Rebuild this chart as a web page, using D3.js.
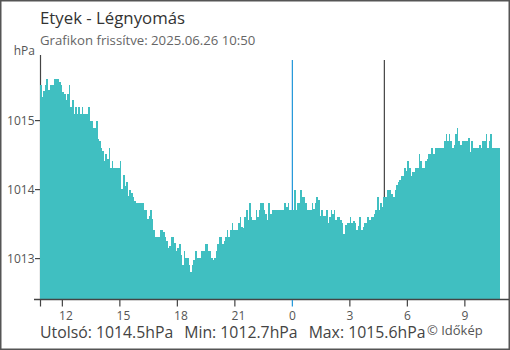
<!DOCTYPE html>
<html><head><meta charset="utf-8">
<script src="https://cdn.jsdelivr.net/npm/d3@7"></script>
<style>html,body{margin:0;padding:0;background:#fff;} svg{display:block;font-family:"Open Sans",sans-serif;}</style>
</head><body><svg id="c" width="510" height="350"></svg>
<script>
const title = "Etyek - Légnyomás";
const subtitle = "Grafikon frissítve: 2025.06.26 10:50";
const unit = "hPa";
const startTime = "2025-06-25T10:50:00";
const endTime = "2025-06-26T10:50:00";
const stepMinutes = 5;
const pressure = [
1015.51,1015.34,1015.43,1015.51,1015.61,1015.45,1015.51,1015.51,1015.51,1015.61,
1015.61,1015.61,1015.56,1015.51,1015.41,1015.38,1015.30,1015.38,1015.51,1015.20,
1015.30,1015.10,1015.20,1015.10,1015.20,1015.10,1015.20,1015.10,1015.10,1015.10,
1015.20,1015.00,1015.00,1014.90,1014.90,1015.00,1014.74,1014.70,1014.61,1014.56,
1014.41,1014.51,1014.45,1014.61,1014.31,1014.41,1014.31,1014.31,1014.31,1014.31,
1014.41,1014.01,1014.21,1014.05,1014.11,1013.91,1014.00,1013.95,1013.90,1013.83,
1013.80,1013.80,1013.80,1013.80,1013.80,1013.70,1013.70,1013.57,1013.62,1013.70,
1013.57,1013.41,1013.31,1013.31,1013.31,1013.41,1013.41,1013.38,1013.31,1013.25,
1013.15,1013.18,1013.31,1013.31,1013.23,1013.11,1013.15,1013.21,1013.05,1012.91,
1013.11,1013.01,1013.01,1012.91,1012.81,1012.91,1012.98,1013.11,1013.01,1013.01,
1013.01,1013.11,1013.11,1013.21,1013.21,1013.11,1013.11,1013.01,1012.98,1013.01,
1013.11,1013.21,1013.31,1013.31,1013.21,1013.25,1013.31,1013.41,1013.31,1013.41,
1013.51,1013.41,1013.41,1013.41,1013.51,1013.61,1013.46,1013.45,1013.61,1013.70,
1013.56,1013.80,1013.61,1013.56,1013.56,1013.70,1013.61,1013.70,1013.80,1013.80,
1013.70,1013.65,1013.56,1013.80,1013.65,1013.70,1013.70,1013.70,1013.70,1013.70,
1013.70,1013.70,1013.70,1013.80,1013.75,1013.80,1013.70,1013.70,1013.70,1014.00,
1013.70,1013.80,1013.80,1014.00,1013.90,1013.90,1013.80,1013.70,1013.70,1013.70,
1013.80,1013.72,1013.80,1013.90,1013.85,1013.62,1013.70,1013.62,1013.62,1013.70,
1013.51,1013.61,1013.70,1013.65,1013.70,1013.56,1013.61,1013.61,1013.56,1013.51,
1013.35,1013.48,1013.51,1013.51,1013.61,1013.51,1013.55,1013.51,1013.42,1013.47,
1013.61,1013.42,1013.46,1013.51,1013.51,1013.61,1013.56,1013.61,1013.61,1013.65,
1013.70,1013.90,1013.70,1013.80,1013.75,1013.90,1013.90,1014.00,1014.00,1014.00,
1013.94,1013.90,1014.00,1014.06,1014.11,1014.14,1014.20,1014.20,1014.31,1014.27,
1014.41,1014.31,1014.20,1014.25,1014.25,1014.31,1014.31,1014.51,1014.41,1014.31,
1014.31,1014.41,1014.45,1014.51,1014.51,1014.61,1014.51,1014.61,1014.61,1014.61,
1014.61,1014.61,1014.61,1014.70,1014.80,1014.70,1014.80,1014.70,1014.61,1014.65,
1014.80,1014.90,1014.70,1014.64,1014.70,1014.70,1014.70,1014.70,1014.75,1014.55,
1014.70,1014.61,1014.61,1014.61,1014.61,1014.65,1014.60,1014.70,1014.70,1014.80,
1014.61,1014.70,1014.80,1014.61,1014.61,1014.61,1014.61,1014.61
];
const yTicks = [1013, 1014, 1015];
const yDomain = [1012.4, 1015.9];
const midnightTime = "2025-06-26T00:00:00";
const sunriseTime = "2025-06-26T04:48:00";
const summaryLabels = ["Utolsó", "Min", "Max"];
const summaryValues = [1014.5, 1012.7, 1015.6];
const credit = "© Időkép";

const barColor = "#40bfc1";
const axisColor = "#444";
const blue = "#2196d9";

const svg = d3.select("#c");
const t0 = new Date(startTime), t1 = new Date(endTime);
const x = d3.scaleTime().domain([t0, t1]).range([40, 500]);
const y = d3.scaleLinear().domain(yDomain).range([300, 58.5]);

const data = pressure.map((v, i) => ({
  t: d3.timeMinute.offset(t0, i * stepMinutes),
  t2: d3.timeMinute.offset(t0, (i + 1) * stepMinutes),
  v
}));

// border
svg.append("rect").attr("x", 0.75).attr("y", 0.75).attr("width", 508.5).attr("height", 348.5)
  .attr("fill", "none").attr("stroke", "#555").attr("stroke-width", 1.5);

// titles
svg.append("text").attr("x", 40).attr("y", 24).attr("font-size", 16.8).attr("fill", "#333").text(title);
svg.append("text").attr("x", 40).attr("y", 45).attr("font-size", 13.2).attr("fill", "#666").text(subtitle);
svg.append("text").attr("x", 35).attr("y", 55).attr("text-anchor", "end").attr("font-size", 12).attr("fill", "#555").text(unit);

// y axis line
svg.append("line").attr("x1", 40.5).attr("x2", 40.5).attr("y1", 55).attr("y2", 300)
  .attr("stroke", axisColor).attr("stroke-width", 1.2);

// marker lines (behind bars)
svg.append("line").attr("x1", x(new Date(midnightTime))).attr("x2", x(new Date(midnightTime)))
  .attr("y1", 60).attr("y2", 300).attr("stroke", blue).attr("stroke-width", 1.2);
svg.append("line").attr("x1", x(new Date(sunriseTime))).attr("x2", x(new Date(sunriseTime)))
  .attr("y1", 60).attr("y2", 300).attr("stroke", axisColor).attr("stroke-width", 1.2);

// bars
svg.append("g").attr("shape-rendering", "crispEdges").selectAll("rect").data(data).join("rect")
  .attr("x", d => x(d.t))
  .attr("width", d => x(d.t2) - x(d.t))
  .attr("y", d => y(d.v))
  .attr("height", d => 300 - y(d.v))
  .attr("fill", barColor);

// y ticks
const yg = svg.append("g");
yTicks.forEach(v => {
  yg.append("line").attr("x1", 35).attr("x2", 40).attr("y1", y(v)).attr("y2", y(v))
    .attr("stroke", axisColor).attr("stroke-width", 1.2);
  yg.append("text").attr("x", 34.5).attr("y", y(v)).attr("dy", "0.35em").attr("text-anchor", "end")
    .attr("font-size", 12).attr("fill", "#555").text(v);
});

// x axis
svg.append("line").attr("x1", 34).attr("x2", 509).attr("y1", 299.5).attr("y2", 299.5)
  .attr("stroke", axisColor).attr("stroke-width", 1.5);
const fmt = d3.timeFormat("%-H");
const xt = x.ticks(d3.timeHour.every(3));
const xg = svg.append("g");
xg.append("line").attr("x1", 40.5).attr("x2", 40.5).attr("y1", 300).attr("y2", 306.5)
  .attr("stroke", axisColor).attr("stroke-width", 1.2);
xt.forEach(t => {
  const isMid = t.getHours() === 0;
  const px = x(t);
  xg.append("line").attr("x1", px).attr("x2", px).attr("y1", 300).attr("y2", 306.5)
    .attr("stroke", isMid ? blue : axisColor).attr("stroke-width", 1.2);
  xg.append("text").attr("x", px - 3.3).attr("y", 319.5).attr("font-size", 12)
    .attr("fill", "#555").text(fmt(t));
});

// summary
const sumText = svg.append("text").attr("x", 40).attr("y", 338).attr("font-size", 15.8).attr("fill", "#444");
summaryLabels.forEach((l, i) => {
  sumText.append("tspan").attr("dx", i === 0 ? 0 : 11)
    .text(`${l}: ${summaryValues[i].toFixed(1)}${unit}`);
});
svg.append("text").attr("x", 427).attr("y", 335).attr("font-size", 13).attr("fill", "#555").text(credit);
</script></body></html>
